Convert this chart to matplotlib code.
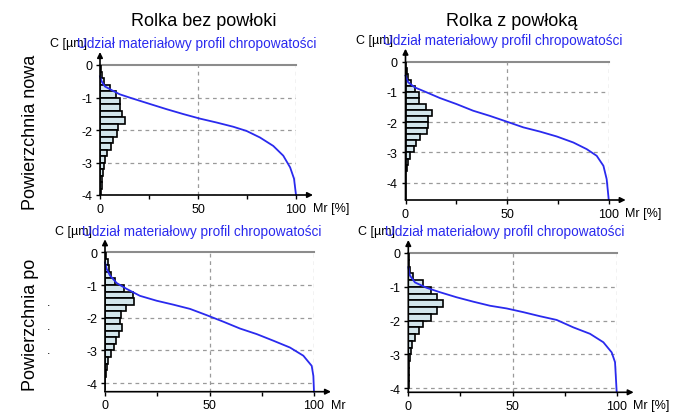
import numpy as np
import matplotlib
matplotlib.use("Agg")
import matplotlib.pyplot as plt

plt.rcParams['font.family'] = ['Liberation Sans', 'DejaVu Sans']
plt.rcParams['axes.unicode_minus'] = False

W, H = 688, 414

# bin centres of the height histogram [um], 0.2 um bins
bin_c = [-0.1, -0.3, -0.5, -0.7, -0.9, -1.1, -1.3, -1.5, -1.7, -1.9,
         -2.1, -2.3, -2.5, -2.7, -2.9, -3.1, -3.3, -3.5, -3.7, -3.9,
         -4.1, -4.3, -4.5]

# amplitude density [%] for each bin
hist_nowa_bez = [0.3, 0.8, 2.0, 5.0, 8.0, 10.0, 10.0, 11.0, 12.7, 9.4,
                 8.5, 6.8, 5.6, 3.7, 2.7, 2.0, 1.5, 1.2, 0.8, 0.5]
hist_nowa_z = [0.0, 0.5, 1.0, 2.5, 4.5, 6.5, 6.5, 10.0, 13.0, 11.0,
               11.0, 10.5, 7.0, 5.0, 4.0, 2.0, 1.0, 0.5, 0.3, 0.2,
               0.1, 0.1, 0.1]
hist_po_bez = [0.3, 1.2, 1.8, 2.8, 5.0, 9.0, 13.2, 13.8, 10.0, 7.5,
               7.0, 8.3, 6.8, 5.2, 4.5, 2.8, 1.5, 0.8, 0.4, 0.2, 0.1]
hist_po_z = [0.2, 0.5, 0.8, 2.4, 7.2, 10.7, 13.9, 16.5, 14.0, 10.7,
             6.9, 5.1, 3.2, 1.9, 1.5, 0.6, 0.3, 0.2, 0.2, 0.1]

# Abbott-Firestone curves: material ratio Mr [%] vs depth C [um]
mr_nowa_bez = [0, 0.8, 2.5, 6.8, 10, 15, 25.5, 34, 42.5, 51, 59.5, 68, 74.8,
               81.6, 88.4, 93.5, 97, 99, 100]
c_nowa_bez = [-0.35, -0.5, -0.66, -0.8, -0.9, -1.0, -1.2, -1.36, -1.51, -1.65,
              -1.77, -1.9, -2.03, -2.23, -2.49, -2.79, -3.15, -3.5, -4.0]

mr_nowa_z = [0, 1.3, 4.6, 10.3, 16.9, 25.1, 33.3, 41.5, 49.8, 58, 66.2, 74.4,
             82.6, 89.2, 94.1, 97.4, 99, 100]
c_nowa_z = [-0.46, -0.68, -0.85, -1.01, -1.2, -1.4, -1.62, -1.79, -1.98, -2.17,
            -2.31, -2.47, -2.67, -2.89, -3.11, -3.44, -3.88, -4.55]

mr_po_bez = [0, 0.8, 2.4, 5.6, 10.4, 16.7, 24.7, 32.7, 40.7, 48.6, 56.6, 64.6,
             72.6, 80.5, 88.5, 94.9, 98.9, 99.7, 100]
c_po_bez = [-0.31, -0.51, -0.71, -0.94, -1.12, -1.33, -1.48, -1.6, -1.73, -1.92,
            -2.12, -2.33, -2.5, -2.7, -2.91, -3.16, -3.47, -3.78, -4.26]

mr_po_z = [0, 0.8, 3.2, 8.8, 15.2, 23.2, 31.2, 39.2, 47.2, 55.2, 63.2, 71.2,
           79.2, 87.2, 93.6, 97.6, 99.2, 100]
c_po_z = [-0.42, -0.67, -0.87, -1.03, -1.16, -1.31, -1.44, -1.56, -1.64, -1.75,
          -1.87, -1.98, -2.2, -2.39, -2.64, -2.94, -3.23, -4.12]

col_titles = ["Rolka bez powłoki", "Rolka z powłoką"]
row_titles = ["Powierzchnia nowa", "Powierzchnia po"]
curve_title = "Udział materiałowy profil chropowatości"

# (left px, right px, top px of C=0, bottom px, lowest C, x label, data...)
panels = [
    (100.0, 296.0, 66.0, 196.0, -4.0, "Mr [%]",
     hist_nowa_bez, mr_nowa_bez, c_nowa_bez),
    (405.5, 608.7, 62.7, 201.0, -4.57, "Mr [%]",
     hist_nowa_z, mr_nowa_z, c_nowa_z),
    (105.0, 314.0, 253.3, 392.7, -4.26, "Mr",
     hist_po_bez, mr_po_bez, c_po_bez),
    (408.3, 616.7, 254.0, 393.3, -4.12, "Mr [%]",
     hist_po_z, mr_po_z, c_po_z),
]

fig = plt.figure(figsize=(W / 100, H / 100), dpi=100)

for x0, x1, y0, y1, cmin, xl, hist, mr, cc in panels:
    ax = fig.add_axes([x0 / W, 1 - y1 / H, (x1 - x0) / W, (y1 - y0) / H])
    ax.set_xlim(0, 100)
    ax.set_ylim(cmin, 0)
    for s in ax.spines.values():
        s.set_visible(False)
    px_per_c = (y1 - y0) / (-cmin)
    px_per_mr = (x1 - x0) / 100

    # grid
    ax.plot([0, 100], [0, 0], color='#8c8c8c', lw=1.5, zorder=1, clip_on=False)
    ax.hlines([-1, -2, -3, -4], 0, 100, colors='#9a9a9a', lw=0.9,
              linestyles=(0, (3, 3)), zorder=1)
    ax.vlines([50, 100], cmin, 0, colors='#9a9a9a', lw=0.9,
              linestyles=(0, (3, 3)), zorder=1)

    # histogram
    ax.barh(bin_c[:len(hist)], hist, height=0.2, left=0, color='#d3e6ec',
            edgecolor='black', lw=1.2, zorder=2)

    # bearing curve
    ax.plot(mr, cc, color='#2a2aee', lw=1.3, zorder=3, clip_on=False)

    # arrowed axes
    ax.annotate('', xy=(0, 13 / px_per_c), xytext=(0, cmin),
                arrowprops=dict(arrowstyle='-|>', color='black', lw=1.2,
                                mutation_scale=8, shrinkA=0, shrinkB=0),
                annotation_clip=False, zorder=4)
    ax.annotate('', xy=(100 + 17 / px_per_mr, cmin), xytext=(0, cmin),
                arrowprops=dict(arrowstyle='-|>', color='black', lw=1.2,
                                mutation_scale=8, shrinkA=0, shrinkB=0),
                annotation_clip=False, zorder=4)

    ax.set_yticks([0, -1, -2, -3, -4])
    ax.set_yticklabels(['0', '-1', '-2', '-3', '-4'])
    ax.set_xticks([0, 50, 100])
    ax.set_xticks([25, 75], minor=True)
    ax.tick_params(axis='both', which='both', direction='out', length=3,
                   width=1, labelsize=9, pad=2.5, colors='black')
    ax.set_facecolor('none')

    ax.annotate(xl, xy=(100, cmin), xycoords='data',
                xytext=(12, -9.5), textcoords='offset points',
                ha='left', va='center', fontsize=9)
    ax.annotate("C [µm]", xy=(0, 0), xycoords='data',
                xytext=(-36, 15.5), textcoords='offset points',
                ha='left', va='center', fontsize=9)
    ax.annotate(curve_title, xy=(0, 0), xycoords='data',
                xytext=(-16.5, 15.5), textcoords='offset points',
                ha='left', va='center', fontsize=9.8, color='#2a2aee')

fig.text(204 / W, 1 - 22 / H, col_titles[0], ha='center', va='center',
         fontsize=13)
fig.text(512 / W, 1 - 22 / H, col_titles[1], ha='center', va='center',
         fontsize=13)
fig.text(31 / W, 1 - 132 / H, row_titles[0], ha='center', va='center',
         rotation=90, fontsize=13)
fig.text(31 / W, 1 - 325 / H, row_titles[1], ha='center', va='center',
         rotation=90, fontsize=13)
for yy in [303, 327, 351]:
    fig.text(49 / W, 1 - yy / H, ".", ha='center', va='center', fontsize=9)

fig.savefig("out.png", dpi=100)
